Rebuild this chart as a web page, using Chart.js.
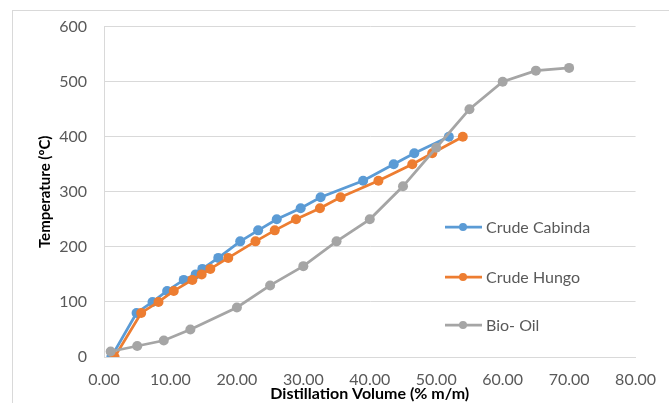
<!DOCTYPE html>
<html>
<head>
<meta charset="utf-8">
<script src="https://cdn.jsdelivr.net/npm/chart.js@4.4.0/dist/chart.umd.min.js"></script>
<style>
  html, body { margin: 0; padding: 0; background: #fff; }
  #wrap { width: 669px; height: 403px; }
</style>
</head>
<body>
<div id="wrap"><canvas id="distChart" width="669" height="403"></canvas></div>
<script>
// Distillation curves
const seriesNames = ['Crude Cabinda', 'Crude Hungo', 'Bio- Oil'];
const seriesColors = ['#5b9bd5', '#ed7d31', '#a5a5a5'];

const cabindaVol  = [1.1, 4.9, 7.3, 9.5, 12.0, 13.8, 14.8, 17.2, 20.5, 23.2, 26.0, 29.6, 32.6, 39.0, 43.6, 46.7, 51.9];
const cabindaTemp = [0, 80, 100, 120, 140, 150, 160, 180, 210, 230, 250, 270, 290, 320, 350, 370, 400];

const hungoVol  = [1.6, 5.6, 8.2, 10.5, 13.3, 14.7, 16.0, 18.7, 22.8, 25.7, 28.9, 32.5, 35.6, 41.3, 46.4, 49.4, 54.0];
const hungoTemp = [0, 80, 100, 120, 140, 150, 160, 180, 210, 230, 250, 270, 290, 320, 350, 370, 400];

const bioVol  = [1, 5, 9, 13, 20, 25, 30, 35, 40, 45, 50, 55, 60, 65, 70];
const bioTemp = [10, 20, 30, 50, 90, 130, 165, 210, 250, 310, 380, 450, 500, 520, 525];

const xMin = 0, xMax = 80, xStep = 10;
const yMin = 0, yMax = 600, yStep = 100;

const FONT = 'Lato, "Open Sans", sans-serif';

function toPoints(xs, ys) {
    return xs.map((x, i) => ({ x: x, y: ys[i] }));
}

function makeSet(idx, xs, ys, order) {
    return {
        label: seriesNames[idx],
        data: toPoints(xs, ys),
        borderColor: seriesColors[idx],
        backgroundColor: seriesColors[idx],
        borderWidth: 2.75,
        pointRadius: 5,
        pointHoverRadius: 5,
        pointBorderWidth: 0,
        tension: 0,
        order: order
    };
}

// outer frame + legend sitting inside the plot like the original
const frameAndLegend = {
    id: 'frameAndLegend',
    beforeDraw(chart) {
        const c = chart.ctx;
        c.save();
        c.fillStyle = '#ffffff';
        c.fillRect(0, 0, chart.width, chart.height);
        c.strokeStyle = '#d9d9d9';
        c.lineWidth = 1;
        c.strokeRect(12.5, 10.5, 700, 450);
        c.restore();
    },
    afterDraw(chart) {
        const c = chart.ctx;
        const rows = [227, 277, 325];
        c.save();
        c.beginPath();
        c.rect(430, 200, 200, 131);
        c.clip();
        c.font = '16px ' + FONT;
        c.textBaseline = 'middle';
        c.textAlign = 'left';
        seriesNames.forEach((name, i) => {
            const y = rows[i];
            c.strokeStyle = seriesColors[i];
            c.lineWidth = 2.75;
            c.beginPath();
            c.moveTo(445, y);
            c.lineTo(482, y);
            c.stroke();
            c.fillStyle = seriesColors[i];
            c.beginPath();
            c.arc(463, y, 4, 0, Math.PI * 2);
            c.fill();
            c.fillStyle = '#595959';
            c.fillText(name, 486, y + 1);
        });
        c.restore();
    }
};

const ctx = document.getElementById('distChart').getContext('2d');
const distChart = new Chart(ctx, {
    type: 'line',
    data: {
        datasets: [
            makeSet(0, cabindaVol, cabindaTemp, 2),
            makeSet(1, hungoVol, hungoTemp, 1),
            makeSet(2, bioVol, bioTemp, 0)
        ]
    },
    options: {
        responsive: false,
        devicePixelRatio: 1,
        animation: false,
        layout: { padding: { left: 0, right: 27, top: 25, bottom: 0 } },
        plugins: {
            legend: { display: false },
            tooltip: { enabled: false }
        },
        scales: {
            x: {
                type: 'linear',
                min: xMin,
                max: xMax,
                afterFit: s => { s.height = 46; },
                grid: { display: false, drawTicks: false },
                border: { display: true, color: '#d9d9d9', width: 1 },
                ticks: {
                    stepSize: xStep,
                    padding: 13,
                    color: '#595959',
                    font: { family: FONT, size: 16 },
                    callback: v => Number(v).toFixed(2)
                },
                title: {
                    display: true,
                    text: 'Distillation Volume (% m/m)',
                    color: '#000000',
                    font: { family: FONT, size: 16, weight: 'bold' },
                    padding: { top: 0, bottom: 0 }
                }
            },
            y: {
                min: yMin,
                max: yMax,
                afterFit: s => { s.width = 104; },
                grid: { color: '#d9d9d9', lineWidth: 1, drawTicks: false },
                border: { display: true, color: '#d9d9d9', width: 1 },
                ticks: {
                    stepSize: yStep,
                    padding: 17,
                    color: '#595959',
                    font: { family: FONT, size: 16 }
                },
                title: {
                    display: true,
                    text: 'Temperature (ºC)',
                    color: '#000000',
                    font: { family: FONT, size: 15, weight: 'bold' },
                    padding: { top: 36, bottom: 0 }
                }
            }
        }
    },
    plugins: [frameAndLegend]
});
</script>
</body>
</html>
